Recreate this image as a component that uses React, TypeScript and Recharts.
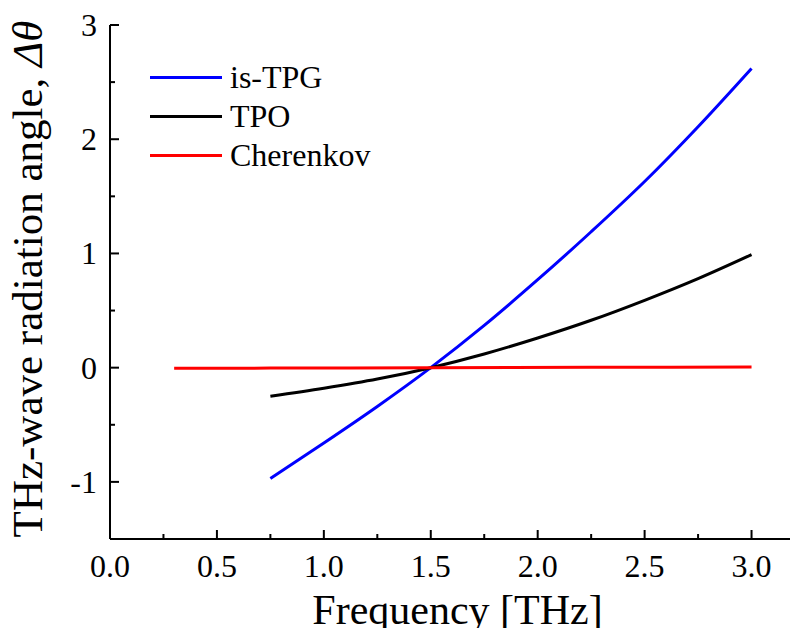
import { LineChart, Line, XAxis, YAxis, Legend } from "recharts";

const FONT = "'Times New Roman', Times, 'Liberation Serif', serif";

// frequencies [THz] for the is-TPG and TPO curves
const freq = [0.75, 1.0, 1.25, 1.5, 1.75, 2.0, 2.25, 2.5, 2.75, 3.0];
const isTpg = [-0.97, -0.66, -0.34, 0, 0.37, 0.77, 1.19, 1.63, 2.11, 2.62];
const tpo = [-0.25, -0.18, -0.1, 0, 0.12, 0.26, 0.415, 0.59, 0.78, 0.99];

const cherFreq = [0.3, 0.75, 1.5, 2.25, 3.0];
const cherenkov = [-0.006, -0.004, 0, 0.003, 0.006];

const xTicks = [0, 0.25, 0.5, 0.75, 1.0, 1.25, 1.5, 1.75, 2.0, 2.25, 2.5, 2.75, 3.0];
const yTicks = [-1.5, -1, -0.5, 0, 0.5, 1, 1.5, 2, 2.5, 3];

const series = [
  { name: "is-TPG", color: "#0000ff", data: freq.map((x, i) => ({ x, y: isTpg[i] })) },
  { name: "TPO", color: "#000000", data: freq.map((x, i) => ({ x, y: tpo[i] })) },
  { name: "Cherenkov", color: "#ff0000", data: cherFreq.map((x, i) => ({ x, y: cherenkov[i] })) },
];

const txt = { fontFamily: FONT, fill: "#000" };

const isMajor = (v: number, step: number) => Math.abs(v / step - Math.round(v / step)) < 1e-6;

const BottomTick = (props: any) => {
  const { x, y, payload } = props;
  const major = isMajor(payload.value, 0.5);
  return (
    <g>
      <line x1={x} x2={x} y1={y} y2={y - (major ? 9 : 5)} stroke="#000" strokeWidth={2} />
      {major && (
        <text x={x} y={y + 38} textAnchor="middle" fontSize={32} style={txt}>
          {payload.value.toFixed(1)}
        </text>
      )}
    </g>
  );
};

const TopTick = (props: any) => {
  const { x, y } = props;
  return <line x1={x} x2={x} y1={y} y2={y + 2} stroke="#000" strokeWidth={1.5} />;
};

const LeftTick = (props: any) => {
  const { x, y, payload } = props;
  const major = isMajor(payload.value, 1);
  return (
    <g>
      <line x1={x} x2={x + (major ? 9 : 5)} y1={y} y2={y} stroke="#000" strokeWidth={2} />
      {major && (
        <text x={x - 13} y={y + 11} textAnchor="end" fontSize={32} style={txt}>
          {payload.value}
        </text>
      )}
    </g>
  );
};

const LegendBox = () => (
  <div style={{ fontFamily: FONT, fontSize: 32, color: "#000" }}>
    {series.map((s) => (
      <div key={s.name} style={{ display: "flex", alignItems: "center", height: 39, lineHeight: "39px" }}>
        <div style={{ width: 72, height: 3, background: s.color, marginRight: 8 }} />
        <span>{s.name}</span>
      </div>
    ))}
  </div>
);

export default function App() {
  return (
    <div style={{ margin: -8, width: 798, height: 636, overflow: "hidden", background: "#fff" }}>
      <LineChart width={810} height={636} margin={{ top: 25, right: 5, left: 30, bottom: 0 }}>
        <XAxis
          dataKey="x"
          type="number"
          domain={[0, 3.25]}
          ticks={xTicks}
          allowDataOverflow
          height={97}
          tickSize={0}
          tickMargin={0}
          tickLine={false}
          axisLine={{ stroke: "#000", strokeWidth: 2 }}
          tick={<BottomTick />}
          interval={0}
          label={{
            content: (p: any) => {
              const vb = p.viewBox;
              return (
                <text x={vb.x + vb.width / 2} y={624} textAnchor="middle" fontSize={42} style={txt}>
                  Frequency [THz]
                </text>
              );
            },
          }}
        />
        <XAxis
          xAxisId="top"
          orientation="top"
          dataKey="x"
          type="number"
          domain={[0, 3.25]}
          ticks={xTicks}
          allowDataOverflow
          height={0}
          tickSize={0}
          tickMargin={0}
          tickLine={false}
          axisLine={{ stroke: "#000", strokeWidth: 2 }}
          tick={<TopTick />}
          interval={0}
        />
        <YAxis
          type="number"
          domain={[-1.5, 3]}
          ticks={yTicks}
          allowDataOverflow
          width={80}
          tickSize={0}
          tickMargin={0}
          tickLine={false}
          axisLine={{ stroke: "#000", strokeWidth: 2 }}
          tick={<LeftTick />}
          interval={0}
          label={{
            content: () => (
              <text
                x={42}
                y={279}
                transform="rotate(-90, 42, 279)"
                textAnchor="middle"
                fontSize={43}
                style={txt}
              >
                THz-wave radiation angle, <tspan fontStyle="italic">Δθ</tspan>
              </text>
            ),
          }}
        />
        <Legend
          content={<LegendBox />}
          layout="vertical"
          align="center"
          verticalAlign="middle"
          wrapperStyle={{ top: 58, left: 150, width: 260 }}
        />
        {series.map((s) => (
          <Line
            key={s.name}
            data={s.data}
            dataKey="y"
            name={s.name}
            type="monotone"
            stroke={s.color}
            strokeWidth={3}
            dot={false}
            activeDot={false}
            isAnimationActive={false}
          />
        ))}
      </LineChart>
    </div>
  );
}
